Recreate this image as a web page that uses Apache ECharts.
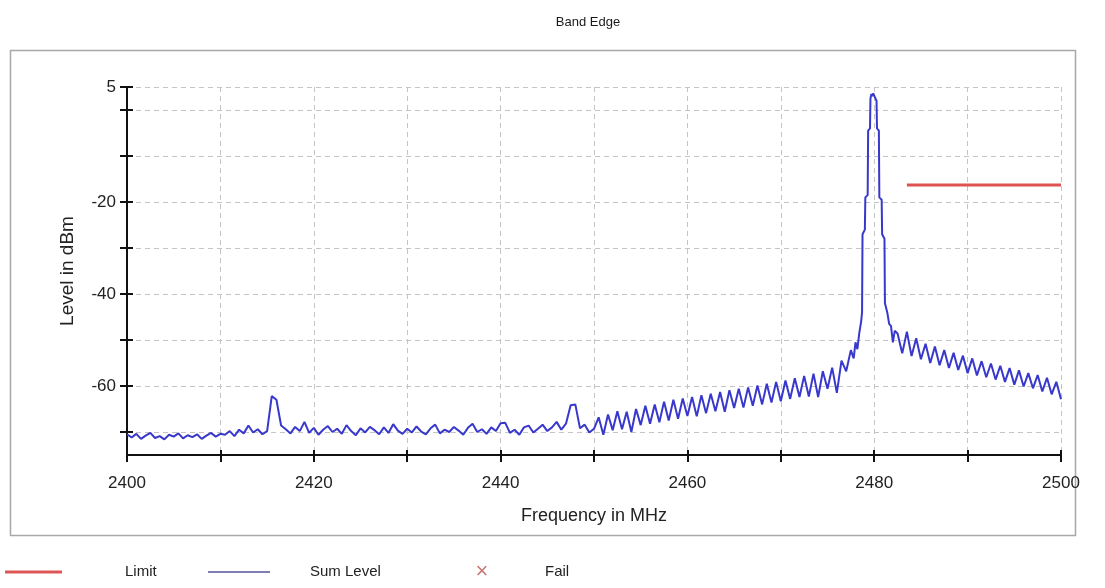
<!DOCTYPE html>
<html>
<head>
<meta charset="utf-8">
<script src="https://cdn.jsdelivr.net/npm/echarts@6/dist/echarts.min.js"></script>
<style>
html,body{margin:0;padding:0;background:#fff;}
#chart{width:1105px;height:588px;}
</style>
</head>
<body>
<div id="chart"></div>
<script>
// ---- Data ----
const chartTitle = 'Band Edge';
const xAxisName = 'Frequency in MHz';
const yAxisName = 'Level in dBm';
const xTickLabels = [2400, 2420, 2440, 2460, 2480, 2500];
const yTickValues = [5, 0, -10, -20, -30, -40, -50, -60, -70];
const yTickLabels = [5, -20, -40, -60];

// Sweep A: 2400.0 .. 2477.5 MHz, 0.5 MHz steps
const sweepAStart = 2400.0;
const sweepAStep = 0.5;
const levelsA = [
  -70.5,-71.2,-70.4,-71.5,-70.8,-70.2,-71.3,-70.9,-71.6,-70.6,-71.0,-70.3,-71.4,-70.7,-71.1,-70.5,-71.5,-70.8,-70.2,-71.0,-70.4,
  -70.6,-69.8,-70.9,-69.5,-70.3,-68.6,-70.1,-69.4,-70.5,
  -69.8,-62.2,-63.0,-68.6,
  -69.4,-70.3,-68.9,-69.8,-67.8,-70.2,-69.1,-70.6,-69.5,-68.7,-70.0,-69.3,-70.4,-68.5,-69.8,-70.7,-69.2,-70.1,-68.9,-69.6,-70.5,-69.0,-70.2,-68.3,-69.7,-70.4,-69.3,
  -70.1,-68.8,-69.9,-70.5,-69.2,-68.4,-70.3,-69.5,-70.0,-68.9,-69.7,-70.6,-69.1,-68.2,-70.0,-69.4,-70.4,-69.0,-69.8,-68.1,-68.0,-70.2,-69.5,-70.6,-69.0,-68.6,-70.1,-69.3,-68.4,-69.8,
  -69.0,-67.8,-69.5,-68.2,-64.2,-64.0,-69.2,-68.4,-70.1,-69.3,
  -66.8,-70.6,-66.2,-69.6,-65.5,-69.4,-65.6,-70.0,-65.0,-68.5,
  -64.3,-68.2,-64.0,-67.9,-63.4,-67.5,-63.0,-67.1,-62.7,-66.5,
  -62.4,-66.6,-62.0,-65.9,-61.7,-65.5,-61.3,-65.6,-60.9,-64.8,
  -60.6,-64.7,-60.3,-64.3,-59.9,-64.0,-59.5,-63.6,-59.1,-63.3,
  -58.8,-62.8,-58.3,-62.4,-57.8,-62.3,-57.3,-62.4,-56.8,-60.6,
  -56.0,-61.5,-54.5,-56.8,-52.2
];

// Carrier region: explicit [MHz, dBm] points
const peakFreqs = [2477.8,2478.0,2478.2,2478.4,2478.6,2478.7,2478.75,2479.0,2479.05,2479.3,2479.35,2479.55,2479.6,2479.7,2479.8,2479.9,2480.1,2480.25,2480.3,2480.5,2480.55,2480.8,2480.85,2481.1,2481.15,2481.4,2481.6,2481.8,2482.0,2482.2];
const peakLevels = [-54.0,-50.5,-52.0,-48.5,-46.0,-44.0,-27.0,-26.0,-19.0,-18.5,-4.5,-4.0,2.5,3.5,3.0,3.6,3.2,2.0,-4.0,-4.5,-19.0,-19.5,-27.0,-28.0,-42.0,-44.0,-46.5,-47.0,-50.5,-48.0];

// Sweep C: 2482.5 .. 2500.0 MHz, 0.5 MHz steps
const sweepCStart = 2482.5;
const sweepCStep = 0.5;
const levelsC = [
  -48.6,-52.9,-48.2,-53.5,-49.6,-54.2,-50.8,-55.0,-51.4,-55.5,
  -52.2,-56.1,-52.8,-56.5,-53.4,-57.2,-54.0,-57.7,-54.6,-58.1,
  -55.1,-58.6,-55.6,-59.1,-56.1,-59.7,-56.6,-60.1,-57.2,-60.5,
  -57.6,-61.2,-58.2,-61.8,-59.1,-62.9
];

// Limit line
const limitFreqs = [2483.5, 2500];
const limitLevels = [-16.3, -16.3];

// ---- build series data ----
const sumLevel = [];
levelsA.forEach((v, i) => sumLevel.push([sweepAStart + i * sweepAStep, v]));
peakFreqs.forEach((f, i) => sumLevel.push([f, peakLevels[i]]));
levelsC.forEach((v, i) => sumLevel.push([sweepCStart + i * sweepCStep, v]));
const limit = limitFreqs.map((f, i) => [f, limitLevels[i]]);

const FONT = 'Liberation Sans, Arial, sans-serif';
const chart = echarts.init(document.getElementById('chart'), null, {renderer: 'canvas'});
const gridDash = {color: '#c4c4c4', type: [5, 4], width: 1};
const tickStyle = {color: '#111', width: 2};

chart.setOption({
  animation: false,
  backgroundColor: '#fff',
  title: {
    text: chartTitle, left: 583, top: 11, textAlign: 'center',
    textStyle: {fontFamily: FONT, fontSize: 13, fontWeight: 'normal', color: '#1a1a1a'}
  },
  grid: {left: 127, right: 44, top: 87, bottom: 133},
  xAxis: [
    {
      type: 'value', min: 2400, max: 2500, interval: 10,
      name: xAxisName, nameLocation: 'middle', nameGap: 52,
      nameTextStyle: {fontFamily: FONT, fontSize: 18, color: '#222'},
      axisLine: {show: true, onZero: false, lineStyle: {color: '#111', width: 2}},
      axisTick: {show: true, length: 7, lineStyle: tickStyle},
      axisLabel: {
        margin: 20, fontFamily: FONT, fontSize: 17, color: '#222',
        formatter: v => (xTickLabels.indexOf(v) >= 0 ? String(v) : '')
      },
      splitLine: {show: true, lineStyle: gridDash}
    },
    {
      type: 'value', position: 'bottom', min: 2400, max: 2500, interval: 10,
      axisLine: {show: false, onZero: false},
      axisTick: {show: true, inside: true, length: 5, lineStyle: tickStyle},
      axisLabel: {show: false}, splitLine: {show: false}
    }
  ],
  yAxis: [
    {
      type: 'value', min: -75, max: 5,
      name: yAxisName, nameLocation: 'middle', nameGap: 50, nameRotate: 90,
      nameTextStyle: {fontFamily: FONT, fontSize: 19, color: '#222'},
      axisLine: {show: true, onZero: false, lineStyle: {color: '#111', width: 2}},
      axisTick: {show: true, length: 7, lineStyle: tickStyle, customValues: yTickValues},
      axisLabel: {margin: 11, fontFamily: FONT, fontSize: 17, color: '#222', customValues: yTickLabels},
      splitLine: {show: true, lineStyle: gridDash}
    },
    {
      type: 'value', position: 'left', min: -75, max: 5,
      axisLine: {show: false, onZero: false},
      axisTick: {show: true, inside: true, length: 6, lineStyle: tickStyle, customValues: yTickValues},
      axisLabel: {show: false}, splitLine: {show: false}
    }
  ],
  series: [
    {
      name: 'Sum Level', type: 'line', data: sumLevel, showSymbol: false, symbol: 'none',
      lineStyle: {color: '#3838cc', width: 2}, z: 3
    },
    {
      name: 'Limit', type: 'line', data: limit, showSymbol: false, symbol: 'none',
      lineStyle: {color: '#e05252', width: 3}, z: 4
    },
    {
      name: 'Fail', type: 'scatter', data: [], symbol: 'path://M0,0L10,10M10,0L0,10'
    }
  ],
  graphic: [
    {type: 'rect', shape: {x: 10.5, y: 50.5, width: 1065, height: 485}, style: {fill: 'none', stroke: '#a8a8a8', lineWidth: 1.5}, z: -1},
    {type: 'line', shape: {x1: 5, y1: 572, x2: 62, y2: 572}, style: {stroke: '#dd5555', lineWidth: 3}},
    {type: 'text', x: 125, y: 572, style: {text: 'Limit', fontFamily: FONT, fontSize: 15, fill: '#222', textVerticalAlign: 'middle'}},
    {type: 'line', shape: {x1: 208, y1: 572, x2: 270, y2: 572}, style: {stroke: '#55559a', lineWidth: 1.3}},
    {type: 'text', x: 310, y: 572, style: {text: 'Sum Level', fontFamily: FONT, fontSize: 15, fill: '#222', textVerticalAlign: 'middle'}},
    {type: 'text', x: 482, y: 572, style: {text: '×', fontFamily: FONT, fontSize: 22, fill: '#c87878', textAlign: 'center', textVerticalAlign: 'middle'}},
    {type: 'text', x: 545, y: 572, style: {text: 'Fail', fontFamily: FONT, fontSize: 15, fill: '#222', textVerticalAlign: 'middle'}}
  ]
});
</script>
</body>
</html>
